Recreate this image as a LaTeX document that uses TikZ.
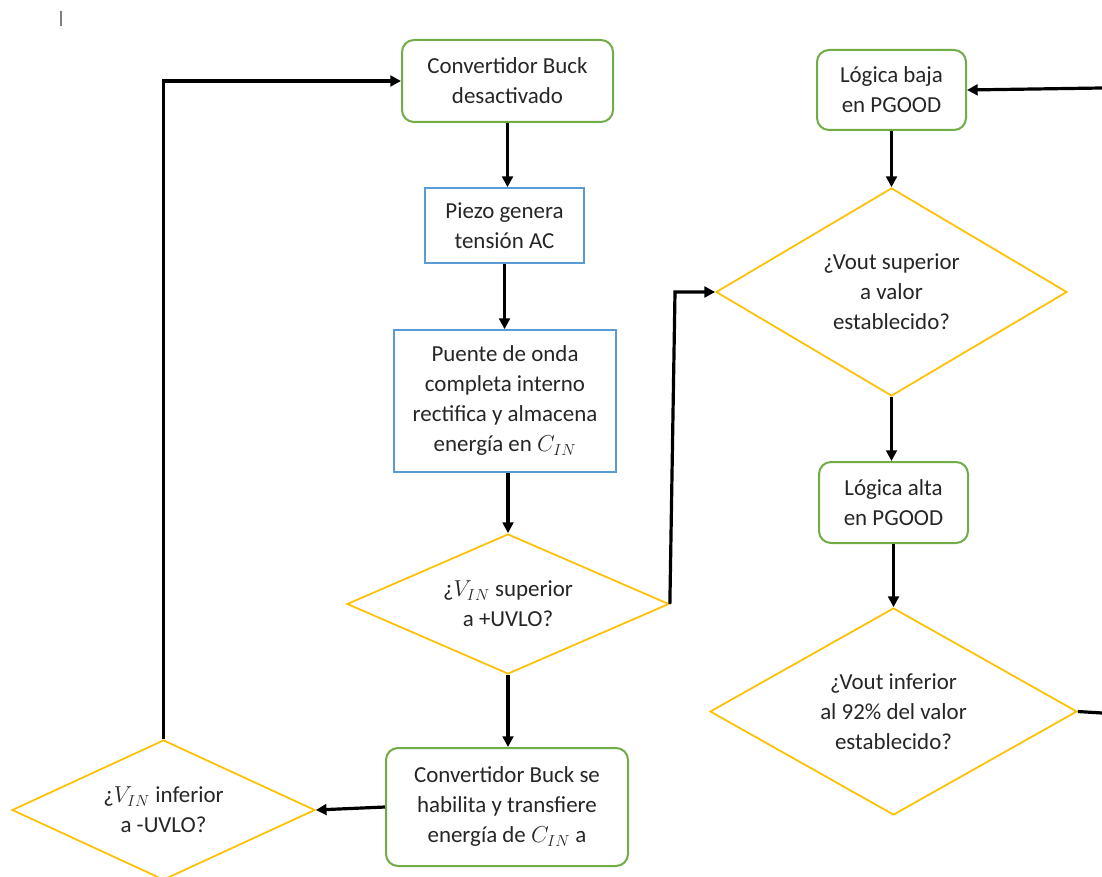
\documentclass[tikz,border=0pt]{standalone}
\usepackage{fontspec}
\setmainfont{Carlito}
\usetikzlibrary{shapes.geometric,arrows.meta,calc}
\definecolor{grn}{RGB}{112,173,71}
\definecolor{blu}{RGB}{91,155,213}
\definecolor{ylw}{RGB}{255,192,0}
\definecolor{txt}{RGB}{38,38,38}
\begin{document}
\begin{tikzpicture}[x=0.75pt,y=-0.75pt,
  every node/.style={font=\fontsize{17.2}{22.5}\selectfont,text=txt,align=center,inner sep=0pt},
  gbox/.style={draw=grn,line width=1.5pt,rounded corners=9pt,fill=white},
  bbox/.style={draw=blu,line width=1.3pt,fill=white},
  dia/.style={draw=ylw,line width=1.3pt,diamond,fill=white},
  arr/.style={line width=2.4pt,-{Triangle[length=8pt,width=8pt]}},
  ln/.style={line width=2.4pt}]
\useasboundingbox (0,0) rectangle (1102,877);
\draw[gray,line width=0.9pt] (61,11) -- (61,26);

\node[gbox,minimum width=158.25pt,minimum height=61.5pt] (n1) at (507.5,81) {Convertidor Buck\\desactivado};
\node[bbox,minimum width=119.25pt,minimum height=56.25pt] (n2) at (504.5,225.5) {Piezo genera\\tensión AC};
\node[bbox,minimum width=166.5pt,minimum height=106.5pt] (n3) at (505,401) {Puente de onda\\completa interno\\rectifica y almacena\\energía en $C_{IN}$};
\node[dia,shape aspect=2.3,minimum width=241.5pt,minimum height=105pt] (d4) at (508,604) {¿$V_{IN}$ superior\\a +UVLO?};
\node[gbox,minimum width=181.5pt,minimum height=88.5pt] (n5) at (507,807) {Convertidor Buck se\\habilita y transfiere\\energía de $C_{IN}$ a};
\node[dia,shape aspect=2.16,minimum width=227.25pt,minimum height=105pt] (d6) at (163.5,810) {¿$V_{IN}$ inferior\\a -UVLO?};
\node[gbox,minimum width=111.75pt,minimum height=60pt] (n7) at (891.5,90) {Lógica baja\\en PGOOD};
\node[dia,shape aspect=1.69,minimum width=263.25pt,minimum height=156pt] (d8) at (891.5,292) {¿Vout superior\\a valor\\establecido?};
\node[gbox,minimum width=111.75pt,minimum height=60.75pt] (n9) at (893.5,502.5) {Lógica alta\\en PGOOD};
\node[dia,shape aspect=1.77,minimum width=275.25pt,minimum height=155.25pt] (d10) at (893.5,711.5) {¿Vout inferior\\al 92\% del valor\\establecido?};

\coordinate (k1) at (675,292);
\coordinate (e1) at (1102,713);
\coordinate (e2) at (1102,88);

\draw[arr] (n1.south) -- (n1.south |- n2.north);
\draw[arr] (n2.south) -- (n2.south |- n3.north);
\draw[arr] (d4.north |- n3.south) -- (d4.north);
\draw[arr] (d4.south) -- (d4.south |- n5.north);
\draw[arr] (n5.west) -- (d6.east);
\draw[arr] (d6.north) |- (n1.west);
\draw[arr] (d4.east) -- (k1) -- (d8.west);
\draw[arr] (n7.south) -- (d8.north);
\draw[arr] (d8.south) -- (d8.south |- n9.north);
\draw[arr] (n9.south) -- (d10.north);
\draw[ln] (d10.east) -- (e1);
\draw[arr] (e2) -- (n7.east);
\end{tikzpicture}
\end{document}
